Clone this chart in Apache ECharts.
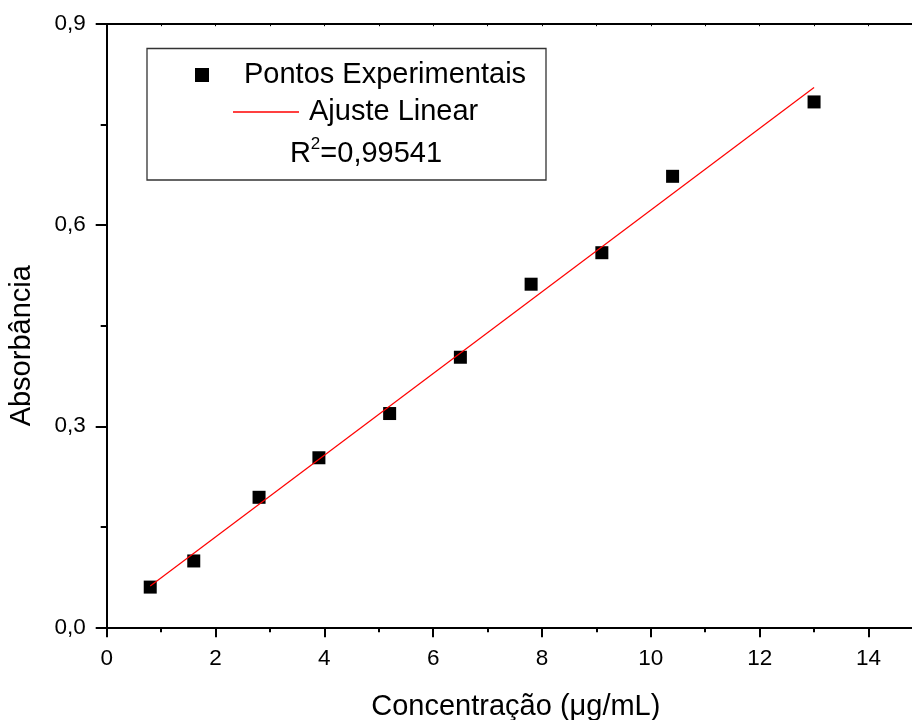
<!DOCTYPE html>
<html>
<head>
<meta charset="utf-8">
<script src="https://cdn.jsdelivr.net/npm/echarts@6/dist/echarts.min.js"></script>
<style>
  html, body { margin: 0; padding: 0; background: #fff; }
  #chart { width: 912px; height: 720px; }
</style>
</head>
<body>
<div id="chart"></div>
<script>
// Calibration data: concentration (μg/mL) vs absorbance
const concentration = [0.8, 1.6, 2.8, 3.9, 5.2, 6.5, 7.8, 9.1, 10.4, 13.0];
const absorbance = [0.060, 0.099, 0.194, 0.253, 0.319, 0.403, 0.512, 0.559, 0.673, 0.784];

// Linear fit, drawn between the first and last concentration
const fitConcentration = [0.8, 13.0];
const fitAbsorbance = [0.0616, 0.8056];
const rSquared = '0,99541';

// Tick positions on the concentration axis
const xMajorTicks = [0, 2, 4, 6, 8, 10, 12, 14];
const xMinorTicks = [1, 3, 5, 7, 9, 11, 13];
const xAllTicks = [0, 1, 2, 3, 4, 5, 6, 7, 8, 9, 10, 11, 12, 13, 14];
const X_MAX = 14.8;

const FONT = '"Liberation Sans", Arial, Helvetica, sans-serif';

const pointData = concentration.map((c, i) => [c, absorbance[i]]);
const fitData = fitConcentration.map((c, i) => [c, fitAbsorbance[i]]);

const chart = echarts.init(document.getElementById('chart'), null, { renderer: 'canvas' });

const axisLine = { show: true, onZero: false, lineStyle: { color: '#000', width: 2 } };
const noSplit = { show: false };

chart.setOption({
  animation: false,
  backgroundColor: '#fff',
  textStyle: { fontFamily: FONT },
  grid: {
    left: 106.7, top: 24.2, right: 0, bottom: 92.7,
    containLabel: false, outerBoundsMode: 'none'
  },
  xAxis: [
    {
      // main bottom axis: line, major ticks, labels, title
      type: 'value', position: 'bottom', min: 0, max: X_MAX,
      axisLine: axisLine,
      axisTick: { show: true, inside: false, length: 10, customValues: xMajorTicks,
                  lineStyle: { color: '#000', width: 2 } },
      splitLine: noSplit,
      axisLabel: { margin: 20, fontSize: 22.5, color: '#000', fontFamily: FONT, customValues: xMajorTicks },
      name: 'Concentração (μg/mL)', nameLocation: 'middle', nameGap: 65,
      nameTextStyle: { fontSize: 29, color: '#000', fontFamily: FONT, padding: [0, 0, 0, 13] }
    },
    {
      // minor ticks on the bottom axis
      type: 'value', position: 'bottom', min: 0, max: X_MAX,
      axisLine: { show: false },
      axisTick: { show: true, inside: false, length: 5, customValues: xMinorTicks,
                  lineStyle: { color: '#000', width: 2 } },
      splitLine: noSplit,
      axisLabel: { show: false }
    },
    {
      // top frame line
      type: 'value', position: 'top', min: 0, max: X_MAX,
      axisLine: axisLine,
      axisTick: { show: true, inside: true, length: 2, customValues: xAllTicks,
                  lineStyle: { color: '#000', width: 1 } },
      splitLine: noSplit,
      axisLabel: { show: false }
    }
  ],
  yAxis: {
    type: 'value', min: 0, max: 0.9, interval: 0.3,
    axisLine: axisLine,
    axisTick: { show: true, inside: false, length: 11, lineStyle: { color: '#000', width: 2 } },
    minorTick: { show: true, splitNumber: 2, length: 6, lineStyle: { color: '#000', width: 2 } },
    splitLine: noSplit,
    axisLabel: {
      margin: 21, fontSize: 22.5, color: '#000', fontFamily: FONT,
      formatter: v => v.toFixed(1).replace('.', ',')
    },
    name: 'Absorbância', nameLocation: 'middle', nameGap: 70,
    nameTextStyle: { fontSize: 29, color: '#000', fontFamily: FONT, padding: [0, 40, 0, 0] }
  },
  legend: [
    {
      data: ['Pontos Experimentais'], left: 195, top: 60, padding: 0,
      itemWidth: 14, itemHeight: 14, selectedMode: false,
      textStyle: { fontSize: 29, lineHeight: 30, color: '#000', fontFamily: FONT, padding: [0, 0, 0, 30] }
    },
    {
      data: [{ name: 'Ajuste Linear', icon: 'rect' }], left: 233, top: 97, padding: 0,
      itemWidth: 66, itemHeight: 1.3, selectedMode: false,
      textStyle: { fontSize: 29, lineHeight: 30, color: '#000', fontFamily: FONT, padding: [0, 0, 0, 5] }
    }
  ],
  graphic: [
    {
      type: 'rect', z: 1,
      shape: { x: 147, y: 48.5, width: 399, height: 131.5 },
      style: { fill: 'none', stroke: '#333', lineWidth: 1.3 }
    },
    {
      type: 'text', z: 2, x: 366, y: 152,
      style: {
        text: '{a|R}{b|2}{a|=' + rSquared + '}',
        align: 'center', verticalAlign: 'middle',
        rich: {
          a: { fontSize: 29, lineHeight: 32, fill: '#000', fontFamily: FONT, verticalAlign: 'bottom' },
          b: { fontSize: 17, lineHeight: 32, fill: '#000', fontFamily: FONT, verticalAlign: 'top' }
        }
      }
    }
  ],
  series: [
    {
      name: 'Pontos Experimentais', type: 'scatter', xAxisIndex: 0, yAxisIndex: 0,
      symbol: 'rect', symbolSize: 13,
      itemStyle: { color: '#000', opacity: 1 },
      data: pointData, z: 2
    },
    {
      name: 'Ajuste Linear', type: 'line', xAxisIndex: 0, yAxisIndex: 0,
      symbol: 'none', showSymbol: false,
      lineStyle: { color: '#ff0000', width: 1.2 },
      itemStyle: { color: '#ff0000' },
      data: fitData, z: 3
    }
  ]
});
</script>
</body>
</html>
